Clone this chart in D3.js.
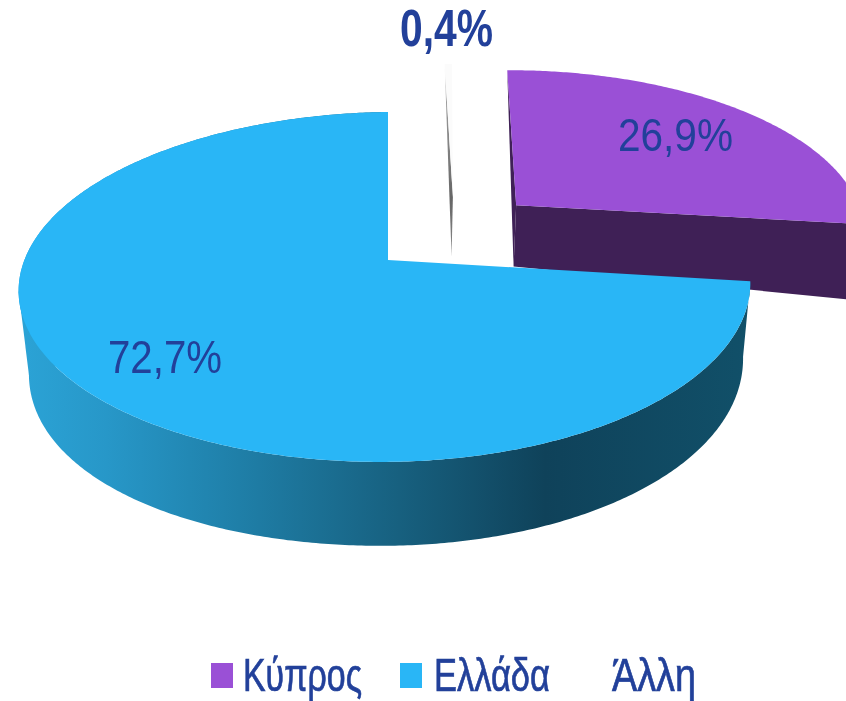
<!DOCTYPE html>
<html>
<head>
<meta charset="utf-8">
<script src="https://d3js.org/d3.v7.min.js"></script>
<style>
  html, body { margin: 0; padding: 0; background: #fff; }
  svg { display: block; }
  text { font-family: "Liberation Sans", Arial, sans-serif; fill: #21409a; filter: url(#soft); }
</style>
</head>
<body>
<div id="chart"></div>
<script>
// data
var categories = ['Κύπρος', 'Ελλάδα', 'Άλλη']
var shares = [26.9, 72.7, 0.4]
var shareLabels = ['26,9%', '72,7%', '0,4%']

var width = 846, height = 701

// look of each slice: explode offset is in pie radii
var sliceStyle = [
  {top: '#9a50d6', wall: '#3f2056', dx: 0.376, dy: -0.327},
  {top: '#29b6f6', wall: 'url(#blueWall)', dx: 0, dy: 0},
  {top: '#fbfbfb', wall: 'url(#greyWall)', dx: 0.192, dy: -0.386}
]
var labelPos = [
  {x: 618, y: 151, w: 115, bold: false},
  {x: 108, y: 373, w: 114, bold: false},
  {x: 400, y: 46, w: 93, bold: true}
]
var legendPos = [
  {x: 211, tx: 243, tw: 119},
  {x: 400, tx: 434, tw: 116},
  {x: null, tx: 612, tw: 84}
]

var svg = d3.select('#chart').append('svg')
  .attr('width', width)
  .attr('height', height)

var defs = svg.append('defs')

defs.append('filter')
  .attr('id', 'soft')
  .append('feGaussianBlur')
    .attr('stdDeviation', 0.5)

var blueWall = defs.append('linearGradient')
  .attr('id', 'blueWall')
  .attr('gradientUnits', 'userSpaceOnUse')
  .attr('x1', 20).attr('x2', 750).attr('y1', 0).attr('y2', 0)
blueWall.selectAll('stop')
  .data([[0, '#2ba3d6'], [0.12, '#2797c8'], [0.3, '#1f7fa8'], [0.52, '#17607f'], [0.72, '#0f425a'], [1, '#115069']])
  .enter().append('stop')
    .attr('offset', function(d) { return d[0] })
    .attr('stop-color', function(d) { return d[1] })

var greyWall = defs.append('linearGradient')
  .attr('id', 'greyWall')
  .attr('x1', 0).attr('x2', 0).attr('y1', 0).attr('y2', 1)
greyWall.selectAll('stop')
  .data([[0, '#ffffff'], [0.2, '#9a9a9a'], [0.7, '#666666'], [1, '#8a8a8a']])
  .enter().append('stop')
    .attr('offset', function(d) { return d[0] })
    .attr('stop-color', function(d) { return d[1] })

// tilted disc: flat pie coordinates to screen, with a bit of perspective
var tilt = -0.154, shear = -4
var scaleX = d3.scaleLinear().domain([-1, 0, 1]).range([23, 388, 746])
var scaleY = d3.scaleLinear().domain([-1, 0, 1]).range([260 - 170.8, 260, 260 + 170.8])

function project(u, v) {
  var w = 1 + tilt * v
  return [scaleX(u / w), scaleY(v / w) + shear * u]
}

// lower rim of the disc sits a little under and inside the top face
function projectLow(u, v) {
  var p = project(u, v)
  var depth = 66 + 17.9 * v + (u < 0 ? 15 : 7) * u * u
  var inset = u < 0 ? 0.972 : 0.98
  return [388 + (p[0] - 388) * inset, p[1] + depth]
}

function rimPoint(a, s, fn) {
  return fn(s.dx + Math.sin(a), s.dy - Math.cos(a))
}

function rim(a0, a1, s, fn) {
  var n = Math.ceil(Math.abs(a1 - a0) / 0.01)
  return d3.range(n + 1).map(function(i) {
    return rimPoint(a0 + (a1 - a0) * i / n, s, fn)
  })
}

var pie = d3.pie().sort(null)
  .startAngle(1.44 * Math.PI / 180)
  .endAngle(1.44 * Math.PI / 180 + 2 * Math.PI)

var line = d3.line()
var arcs = pie(shares)

// back to front so the blue tip ends up over the purple wall
var g = svg.append('g')
;[2, 0, 1].forEach(function(i) {
  var d = arcs[i], s = sliceStyle[i]
  var apex = project(s.dx, s.dy), apexLow = projectLow(s.dx, s.dy)

  if (i == 1) {
    // outer wall, only the big slice shows one
    var upper = rim(d.startAngle, d.endAngle, s, project)
    var lower = rim(d.endAngle, d.startAngle, s, projectLow)
    g.append('path')
      .attr('d', line(upper.concat(lower)) + 'Z')
      .attr('fill', s.wall)
    // straight silhouette between the two rims on the far left
    var leftUp = upper[d3.leastIndex(upper, function(a, b) { return a[0] - b[0] })]
    var leftLow = lower[d3.leastIndex(lower, function(a, b) { return a[0] - b[0] })]
    g.append('path')
      .attr('d', line([leftUp, leftLow, apex]) + 'Z')
      .attr('fill', s.wall)
  } else {
    // cut face on the left, seen nearly edge on
    g.append('path')
      .attr('d', line([rimPoint(d.startAngle, s, project), apex, apexLow]) + 'Z')
      .attr('fill', s.wall)
  }
  if (i == 0) {
    // front cut face of the purple slice
    g.append('path')
      .attr('d', line([rimPoint(d.endAngle, s, project), apex, apexLow, rimPoint(d.endAngle, s, projectLow)]) + 'Z')
      .attr('fill', s.wall)
  }

  // top face
  g.append('path')
    .attr('d', line([apex].concat(rim(d.startAngle, d.endAngle, s, project))) + 'Z')
    .attr('fill', s.top)
})

// share labels
svg.selectAll('.share')
  .data(shareLabels)
  .enter().append('text')
    .attr('class', 'share')
    .attr('x', function(d, i) { return labelPos[i].x })
    .attr('y', function(d, i) { return labelPos[i].y })
    .attr('textLength', function(d, i) { return labelPos[i].w })
    .attr('lengthAdjust', 'spacingAndGlyphs')
    .style('font-size', function(d, i) { return labelPos[i].bold ? '51px' : '47px' })
    .style('font-weight', function(d, i) { return labelPos[i].bold ? 'bold' : 'normal' })
    .text(function(d) { return d })

// legend, the third entry has no visible swatch
var legend = svg.selectAll('.legend')
  .data(categories)
  .enter().append('g')
    .attr('class', 'legend')

legend.filter(function(d, i) { return legendPos[i].x !== null })
  .append('rect')
    .attr('x', function(d, i) { return legendPos[i].x })
    .attr('y', 663)
    .attr('width', 22)
    .attr('height', 25)
    .attr('fill', function(d, i) { return sliceStyle[i].top })

legend.append('text')
  .attr('x', function(d, i) { return legendPos[i].tx })
  .attr('y', 691)
  .attr('textLength', function(d, i) { return legendPos[i].tw })
  .attr('lengthAdjust', 'spacingAndGlyphs')
  .style('font-size', '47px')
  .style('stroke', '#21409a')
  .style('stroke-width', 0.7)
  .text(function(d) { return d })
</script>
</body>
</html>
